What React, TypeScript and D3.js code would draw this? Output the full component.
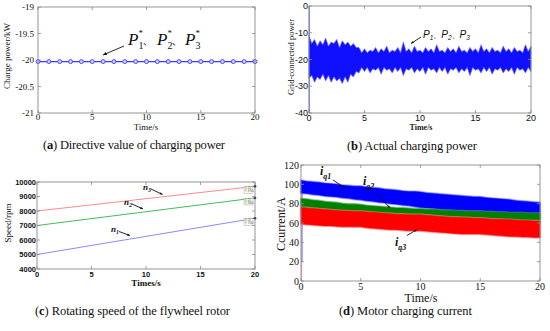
import React from 'react';
import * as d3 from 'd3';

const W = 550;
const H = 331;

const SERIF = '"Liberation Serif", "Times New Roman", serif';
const SANS = '"Liberation Sans", Arial, sans-serif';
const CJK = '"Noto Sans CJK SC", sans-serif';
const boxStroke = '#8a8a8a';

// (a) directive value of charging power, one marker per second
const timeA = d3.range(0, 21, 1);
const directiveP = [
  -20.03, -20.03, -20.03, -20.03, -20.03, -20.03, -20.03, -20.03, -20.03, -20.03, -20.03,
  -20.03, -20.03, -20.03, -20.03, -20.03, -20.03, -20.03, -20.03, -20.03, -20.03,
];

// (b) actual charging power, envelope of the noisy trace every 0.25 s
const timeQuarter = d3.range(0, 20.001, 0.25);
const gridUpper = [
  -11, -14, -12.5, -15, -13, -14.5, -12, -15, -13.5, -14, -12.5, -15.5, -13, -14.5, -13.5, -15, -14, -15.5, -15.5,
  -17.5, -16, -17.5, -16.5, -17, -15.5, -17.5, -16, -17, -15,
  -17.5, -16.5, -17, -15.5, -17.5, -13.5, -17, -16, -17.5, -15,
  -17, -16.5, -17.5, -15.5, -17, -16, -17.5, -14.5, -17, -16.5,
  -17.5, -15.5, -17, -16, -17.5, -15, -17, -16.5, -17.5, -15.5,
  -17, -16, -17.5, -14.5, -17, -16, -17.5, -15.5, -17, -16.5,
  -17.5, -15, -17, -16, -17.5, -15.5, -17, -16.5, -17.5, -14.5,
  -17, -15,
];
const gridLower = [
  -27, -26, -28.5, -26.5, -27.5, -25.5, -28, -26, -28.5, -26.5, -28, -27, -29, -26.5, -28.5, -25.5, -26.5, -24.5, -25,
  -23, -24.5, -23, -25, -23.5, -24, -23, -25.5, -23, -24,
  -23.5, -25, -23, -24.5, -23, -26, -23.5, -24, -23, -25,
  -23.5, -24.5, -23, -25.5, -23, -24, -23.5, -25, -23, -24.5,
  -23, -25.5, -23.5, -24, -23, -25, -23.5, -24.5, -23, -26,
  -23, -24, -23.5, -25, -23, -24.5, -23, -25.5, -23.5, -24,
  -23, -25, -23.5, -24.5, -23, -25.5, -23, -24, -23.5, -25,
  -23, -24.5,
];

// (c) rotor speed, straight ramps
const speedTime = [0, 20];
const speedN3 = [8000, 9700];
const speedN2 = [7000, 8900];
const speedN1 = [5000, 7500];

// (d) motor charging current, envelopes every 0.5 s
const timeHalf = d3.range(0, 20.001, 0.5);
const iq1Upper = [
  104, 103, 102.5, 102, 101, 100.5, 100, 99, 98.5, 98, 98, 97, 96.5, 96, 95, 94.5, 94, 93, 92.5,
  92.5, 92, 91, 90.5, 90, 89.5, 89, 88.5, 88, 87.5, 87, 87, 86, 85.5, 85, 84.5, 84, 83, 82.5, 82,
  81.5, 81,
];
const iq1Lower = [
  91, 90.5, 89.5, 89, 88, 87.5, 87, 86, 85.5, 84.5, 84, 83, 82.5, 81.5, 81, 80, 79.5, 78.5, 78, 77,
  76, 75.5, 75, 74, 73.5, 73, 72, 71.5, 71, 70, 69.5, 69, 68.5, 68, 67, 66.5, 66, 65.5, 65, 64.5,
  64,
];
const iq2Upper = [
  85, 84.5, 83.5, 83, 82, 81.5, 81, 80, 79.5, 79.5, 79, 78, 77.5, 77, 76.5, 76, 75.5, 75.5, 75,
  74.5, 74.5, 74, 74, 73.5, 73, 73, 72.5, 72.5, 72, 72, 72, 71.5, 71.5, 71, 71, 70.5, 70.5, 70.5,
  70, 70, 70,
];
const iq2Lower = [
  73, 72.5, 72, 71.5, 71, 70.5, 70, 69.5, 69.5, 69, 68.5, 68, 68, 67.5, 67, 67, 66.5, 66, 66, 65.5,
  65.5, 65, 64.5, 64.5, 64, 63.5, 63.5, 63, 63, 62.5, 62.5, 62, 62, 61.5, 61.5, 61, 61, 60.5, 60.5,
  60, 60,
];
const iq3Upper = [
  76, 75.5, 75, 74.5, 74, 73.5, 73, 72.5, 72.5, 72, 72, 71.5, 71, 70.5, 70, 69.5, 69, 69, 68.5,
  68.5, 68.5, 68, 67.5, 67, 66.5, 66, 66, 65.5, 65.5, 65, 65, 64.5, 64, 64, 63.5, 63.5, 63, 62.5,
  62.5, 62, 62,
];
const iq3Lower = [
  59, 58.5, 58, 57.5, 57, 57, 56.5, 56, 56, 56, 56, 55, 54.5, 54, 53.5, 53, 53, 52.5, 52, 52, 52,
  51.5, 51, 50.5, 50, 49.5, 49, 48.5, 48.5, 48.5, 48.5, 48, 47.5, 47, 46.5, 46, 46, 45.5, 45.5,
  45, 45,
];

type Scale = d3.ScaleLinear<number, number>;

type FrameProps = {
  x: Scale;
  y: Scale;
  xTicks: number[];
  yTicks: number[];
  font: string;
  size: number;
  weight?: string | number;
  xLabelY: number; // baseline of x tick labels
  yLabelX: number; // right edge of y tick labels
  yDy?: number;
};

function Frame({ x, y, xTicks, yTicks, font, size, weight = 'normal', xLabelY, yLabelX, yDy = 3 }: FrameProps) {
  const [x0, x1] = x.range();
  const [y0, y1] = y.range();
  const tl = 3;
  return (
    <g>
      <rect x={x0} y={y1} width={x1 - x0} height={y0 - y1} fill="none" stroke={boxStroke} strokeWidth={0.9} />
      {xTicks.map((t) => (
        <g key={'x' + t}>
          <line x1={x(t)} x2={x(t)} y1={y0} y2={y0 - tl} stroke={boxStroke} strokeWidth={0.8} />
          <line x1={x(t)} x2={x(t)} y1={y1} y2={y1 + tl} stroke={boxStroke} strokeWidth={0.8} />
          <text x={x(t)} y={xLabelY} textAnchor="middle" fontFamily={font} fontSize={size} fontWeight={weight} fill="#111">
            {t}
          </text>
        </g>
      ))}
      {yTicks.map((t) => (
        <g key={'y' + t}>
          <line x1={x0} x2={x0 + tl} y1={y(t)} y2={y(t)} stroke={boxStroke} strokeWidth={0.8} />
          <line x1={x1} x2={x1 - tl} y1={y(t)} y2={y(t)} stroke={boxStroke} strokeWidth={0.8} />
          <text x={yLabelX} y={y(t) + yDy} textAnchor="end" fontFamily={font} fontSize={size} fontWeight={weight} fill="#111">
            {t}
          </text>
        </g>
      ))}
    </g>
  );
}

function Arrow({ x1, y1, x2, y2, head = 4 }: { x1: number; y1: number; x2: number; y2: number; head?: number }) {
  const a = Math.atan2(y2 - y1, x2 - x1);
  const p1 = [x2 - head * Math.cos(a - 0.4), y2 - head * Math.sin(a - 0.4)];
  const p2 = [x2 - head * Math.cos(a + 0.4), y2 - head * Math.sin(a + 0.4)];
  return (
    <g>
      <line x1={x1} y1={y1} x2={x2} y2={y2} stroke="#111" strokeWidth={0.9} />
      <polygon points={`${x2},${y2} ${p1[0]},${p1[1]} ${p2[0]},${p2[1]}`} fill="#111" />
    </g>
  );
}

function Caption({ x, y, tag, text, width }: { x: number; y: number; tag: string; text: string; width: number }) {
  return (
    <text x={x} y={y} fontFamily={SERIF} fontSize={12.5} fill="#111" textLength={width} lengthAdjust="spacing">
      (<tspan fontWeight="bold">{tag}</tspan>) {text}
    </text>
  );
}

function PanelA() {
  const x = d3.scaleLinear().domain([0, 20]).range([38, 255]);
  const y = d3.scaleLinear().domain([-21, -19]).range([113, 7]);
  const pts = timeA.map((t, i) => ({ t, v: directiveP[i] }));
  const line = d3.line<{ t: number; v: number }>().x((d) => x(d.t)).y((d) => y(d.v));
  const P = (px: number, sub: string) => (
    <text x={px} y={45} fontFamily={SERIF} fontSize={17} fill="#111">
      <tspan fontStyle="italic">P</tspan>
      <tspan fontSize={10} dy={3.5}>{sub}</tspan>
      <tspan fontSize={9} dx={-5} dy={-13}>*</tspan>
    </text>
  );
  return (
    <g>
      <path d={line(pts) ?? ''} fill="none" stroke="#3b3bff" strokeWidth={1.1} />
      {pts.map((d) => (
        <circle key={d.t} cx={x(d.t)} cy={y(d.v)} r={2} fill="#d0d0ff" stroke="#3b3bff" strokeWidth={0.9} />
      ))}
      <Frame x={x} y={y} xTicks={[0, 5, 10, 15, 20]} yTicks={[-21, -20.5, -20, -19.5, -19]} font={SERIF} size={9} xLabelY={120} yLabelX={34} />
      <text transform="translate(10,56) rotate(-90)" textAnchor="middle" fontFamily={SERIF} fontSize={9} fill="#111">Charge power/kW</text>
      <text x={146} y={130} textAnchor="middle" fontFamily={SERIF} fontSize={9} fill="#111">Time/s</text>
      {P(128, '1')}
      <text x={143} y={45} fontFamily={CJK} fontSize={9} fill="#111">、</text>
      {P(157, '2')}
      <text x={172} y={45} fontFamily={CJK} fontSize={9} fill="#111">、</text>
      {P(185, '3')}
      <Arrow x1={124} y1={46} x2={103} y2={55} />
      <Caption x={43} y={149} tag="a" text="Directive value of charging power" width={182} />
    </g>
  );
}

function PanelB() {
  const x = d3.scaleLinear().domain([0, 20]).range([309, 531]);
  const y = d3.scaleLinear().domain([-40, 0]).range([113, 6]);
  const band = timeQuarter.map((t, i) => ({ t, hi: gridUpper[i], lo: gridLower[i] }));
  const area = d3
    .area<{ t: number; hi: number; lo: number }>()
    .x((d) => x(d.t))
    .y0((d) => y(d.lo))
    .y1((d) => y(d.hi));
  return (
    <g>
      <line x1={x(0.03)} x2={x(0.03)} y1={y(0)} y2={y(-40)} stroke="#8080ff" strokeWidth={1.2} />
      <path d={area(band) ?? ''} fill="#1010ff" stroke="#6a6aff" strokeWidth={0.7} />
      <Frame x={x} y={y} xTicks={[0, 5, 10, 15, 20]} yTicks={[-40, -30, -20, -10, 0]} font={SANS} size={9} xLabelY={121} yLabelX={308} />
      <text transform="translate(294,57) rotate(-90)" textAnchor="middle" fontFamily={SERIF} fontSize={8.5} fill="#111">Grid-connected power</text>
      <text x={421} y={130} textAnchor="middle" fontFamily={SERIF} fontSize={8} fontWeight="bold" fill="#222">Time/s</text>
      <text x={423} y={38} fontFamily={SANS} fontSize={10} fontStyle="italic" fill="#111">
        P<tspan fontSize={6.5} dy={2}>1</tspan>
        <tspan dy={-2} fontSize={8}>、</tspan>P<tspan fontSize={6.5} dy={2}>2</tspan>
        <tspan dy={-2} fontSize={8}>、</tspan>P<tspan fontSize={6.5} dy={2}>3</tspan>
      </text>
      <Arrow x1={421} y1={37} x2={411} y2={43.5} head={3} />
      <Caption x={347} y={150} tag="b" text="Actual charging power" width={130} />
    </g>
  );
}

function PanelC() {
  const x = d3.scaleLinear().domain([0, 20]).range([37, 255]);
  const y = d3.scaleLinear().domain([4000, 10000]).range([269, 182]);
  const line = d3.line<number>().x((_, i) => x(speedTime[i])).y((d) => y(d));
  const series = [
    { vals: speedN3, color: '#ff8a8a', tip: 'Y: 9700' },
    { vals: speedN2, color: '#3fbf5f', tip: 'Y: 8900' },
    { vals: speedN1, color: '#8a8aff', tip: 'Y: 7500' },
  ];
  const nLabel = (lx: number, ly: number, sub: string) => (
    <text x={lx} y={ly} fontFamily={SERIF} fontSize={9} fontWeight="bold" fontStyle="italic" fill="#111">
      n<tspan fontSize={6} dy={2}>{sub}</tspan>
    </text>
  );
  return (
    <g>
      {series.map((s, i) => (
        <path key={i} d={line(s.vals) ?? ''} fill="none" stroke={s.color} strokeWidth={1} />
      ))}
      {series.map((s, i) => {
        const ye = y(s.vals[1]);
        return (
          <g key={'tip' + i}>
            <rect x={x(20) - 11} y={ye + 0.5} width={9} height={6.5} fill="#fbfbe8" stroke="#9a9a9a" strokeWidth={0.4} />
            <text x={x(20) - 10.3} y={ye + 3} fontFamily={SANS} fontSize={2.6} fill="#555">X: 20</text>
            <text x={x(20) - 10.3} y={ye + 6} fontFamily={SANS} fontSize={2.6} fill="#555">{s.tip}</text>
            <circle cx={x(20)} cy={ye} r={1.3} fill="#111" />
          </g>
        );
      })}
      <Frame x={x} y={y} xTicks={[0, 5, 10, 15, 20]} yTicks={[4000, 5000, 6000, 7000, 8000, 9000, 10000]} font={SANS} size={7.5} weight="bold" xLabelY={277} yLabelX={36} yDy={2.5} />
      <text transform="translate(11,223) rotate(-90)" textAnchor="middle" fontFamily={SERIF} fontSize={9} fill="#111">Speed/rpm</text>
      <text x={146} y={286} textAnchor="middle" fontFamily={SERIF} fontSize={9} fontWeight="bold" fill="#111">Times/s</text>
      {nLabel(143, 190, '3')}
      <Arrow x1={151} y1={189} x2={162.5} y2={194.5} head={3} />
      {nLabel(124, 205, '2')}
      <Arrow x1={132} y1={204} x2={143} y2={209} head={3} />
      {nLabel(111, 232, '1')}
      <Arrow x1={119} y1={231.5} x2={130} y2={235.5} head={3} />
      <Caption x={35} y={315} tag="c" text="Rotating speed of the flywheel rotor" width={195} />
    </g>
  );
}

function PanelD() {
  const x = d3.scaleLinear().domain([0, 20]).range([301, 540]);
  const y = d3.scaleLinear().domain([0, 120]).range([281, 165]);
  const band = (hi: number[], lo: number[]) =>
    d3
      .area<number>()
      .x((_, i) => x(timeHalf[i]))
      .y0((_, i) => y(lo[i]))
      .y1((d) => y(d))(hi) ?? '';
  const series = [
    { hi: iq1Upper, lo: iq1Lower, color: '#0000ff', halo: '#8080ff' },
    { hi: iq2Upper, lo: iq2Lower, color: '#008000', halo: '#66b266' },
    { hi: iq3Upper, lo: iq3Lower, color: '#ff0000', halo: '#ff9090' },
  ];
  const iLabel = (lx: number, ly: number, sub: string) => (
    <text x={lx} y={ly} fontFamily={SERIF} fontSize={12} fontWeight="bold" fontStyle="italic" fill="#111">
      i<tspan fontSize={8} dy={4}>{sub}</tspan>
    </text>
  );
  return (
    <g>
      <line x1={x(0.05)} x2={x(0.05)} y1={y(0)} y2={y(104)} stroke="#ff9ab0" strokeWidth={1} />
      <line x1={x(0.1)} x2={x(0.1)} y1={y(20)} y2={y(100)} stroke="#7070ff" strokeWidth={0.8} />
      {series.map((s, i) => {
        const d = band(s.hi, s.lo);
        return (
          <g key={i}>
            <path d={d} fill={s.halo} stroke={s.halo} strokeWidth={2.4} strokeLinejoin="round" opacity={0.65} />
            <path d={d} fill={s.color} stroke={s.color} strokeWidth={0.5} />
          </g>
        );
      })}
      <Frame x={x} y={y} xTicks={[0, 5, 10, 15, 20]} yTicks={[0, 20, 40, 60, 80, 100, 120]} font={SERIF} size={10} xLabelY={290} yLabelX={299} yDy={3.5} />
      <text transform="translate(285,224) rotate(-90)" textAnchor="middle" fontFamily={SERIF} fontSize={12} fill="#111">Ccurrent/A</text>
      <text x={421} y={302} textAnchor="middle" fontFamily={SERIF} fontSize={12} fill="#111">Time/s</text>
      {iLabel(320, 175, 'q1')}
      <Arrow x1={333} y1={180} x2={345} y2={188} head={3} />
      {iLabel(363, 185, 'q2')}
      <Arrow x1={377} y1={194} x2={390} y2={208} head={3} />
      {iLabel(395, 246, 'q3')}
      <Arrow x1={407} y1={235.5} x2={417} y2={229.5} head={3} />
      <Caption x={339} y={315} tag="d" text="Motor charging current" width={133} />
    </g>
  );
}

export default function App() {
  return (
    <svg width={W} height={H} viewBox={`0 0 ${W} ${H}`} style={{ position: 'absolute', left: 0, top: 0, background: '#fff' }}>
      <rect width={W} height={H} fill="#fff" />
      <PanelA />
      <PanelB />
      <PanelC />
      <PanelD />
    </svg>
  );
}
